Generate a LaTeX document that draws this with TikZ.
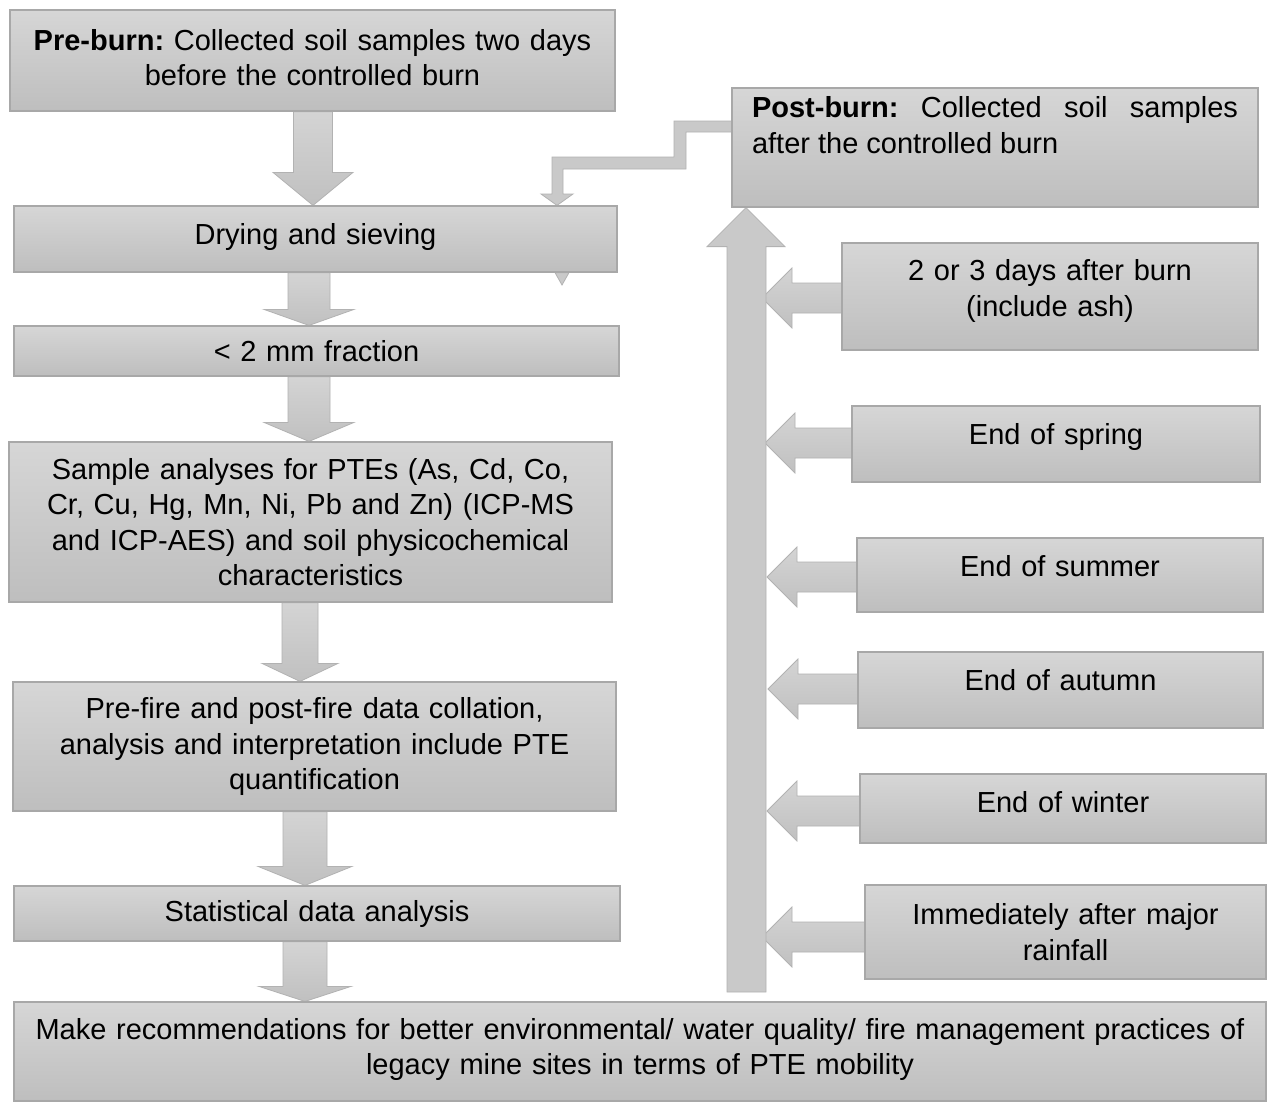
\documentclass[tikz,border=0pt]{standalone}
\usepackage{fontspec}
\setmainfont{Liberation Sans}
\usetikzlibrary{calc,backgrounds}
\setlength{\parindent}{0pt}
\frenchspacing

\definecolor{boxtop}{HTML}{D6D6D6}
\definecolor{boxbot}{HTML}{BEBEBE}
\definecolor{boxedge}{HTML}{A8A8A8}
\definecolor{arrtop}{HTML}{D4D4D4}
\definecolor{arrbot}{HTML}{C0C0C0}
\definecolor{arredge}{HTML}{B2B2B2}
\definecolor{arrflat}{HTML}{C9C9C9}

\tikzset{
  box/.style={draw=boxedge, line width=1.2pt, top color=boxtop, bottom color=boxbot,
    inner sep=0pt, font=\fontsize{29}{35.5}\selectfont, align=center, text=black},
  lift/.style={execute at end node={\par\vspace*{#1pt}}},
  blockarrow/.style={draw=arredge, line width=0.8pt, top color=arrtop, bottom color=arrbot},
  flatarrow/.style={draw=arredge, line width=0.8pt, fill=arrflat},
}

% downward block arrow: source, target, axis x, half stem, half head, head length
\newcommand\blkdown[6]{%
  \path[blockarrow]
    (#3-#4,0 |- #1.south) -- (#3+#4,0 |- #1.south)
    -- ($(#3+#4,0 |- #2.north)+(0,-#6)$) -- ($(#3+#5,0 |- #2.north)+(0,-#6)$)
    -- (#3,0 |- #2.north)
    -- ($(#3-#5,0 |- #2.north)+(0,-#6)$) -- ($(#3-#4,0 |- #2.north)+(0,-#6)$) -- cycle;}

% leftward block arrow: source, tip x, vertical offset
\newcommand\blkleft[3]{%
  \path[blockarrow]
    ($(#1.west)+(0,#3-15)$) -- ($(#2+30,0 |- #1.west)+(0,#3-15)$)
    -- ($(#2+30,0 |- #1.west)+(0,#3-30)$) -- ($(#2,0 |- #1.west)+(0,#3)$)
    -- ($(#2+30,0 |- #1.west)+(0,#3+30)$) -- ($(#2+30,0 |- #1.west)+(0,#3+15)$)
    -- ($(#1.west)+(0,#3+15)$) -- cycle;}

\begin{document}
\begin{tikzpicture}[x=1pt, y=-1pt]
\useasboundingbox (0,0) rectangle (1272,1103);

% ---- left column ----
\node[box, minimum width=605, minimum height=101, text width=585, lift=6] (pre) at (312.5,60.5)
  {\textbf{Pre-burn:} Collected soil samples two days\\ before the controlled burn};
\node[box, minimum width=603, minimum height=66, text width=583, lift=4] (dry) at (315.5,239)
  {Drying and sieving};
\node[box, minimum width=605, minimum height=50, text width=585] (frac) at (316.5,351)
  {< 2 mm fraction};
\node[box, minimum width=603, minimum height=160, text width=583] (sample) at (310.5,522)
  {Sample analyses for PTEs (As, Cd, Co,\\ Cr, Cu, Hg, Mn, Ni, Pb and Zn) (ICP-MS\\ and ICP-AES) and soil physicochemical\\ characteristics};
\node[box, minimum width=603, minimum height=129, text width=583] (collate) at (314.5,746.5)
  {Pre-fire and post-fire data collation,\\ analysis and interpretation include PTE\\ quantification};
\node[box, minimum width=606, minimum height=55, text width=586] (stat) at (317,913.5)
  {Statistical data analysis};
\node[box, minimum width=1252, minimum height=99, text width=1232, lift=4] (recommend) at (640,1051.5)
  {Make recommendations for better environmental/ water quality/ fire management practices of\\ legacy mine sites in terms of PTE mobility};

% ---- right column ----
\node[box, minimum width=526, minimum height=119, text width=486, align=justify, lift=45] (post) at (995,147.5)
  {\textbf{Post-burn:} Collected soil samples\linebreak after the controlled burn};
\node[box, minimum width=416, minimum height=107, text width=396, lift=11] (days) at (1050,296.5)
  {2 or 3 days after burn\\ (include ash)};
\node[box, minimum width=408, minimum height=76, text width=388, lift=14] (spring) at (1056,444)
  {End of spring};
\node[box, minimum width=406, minimum height=74, text width=386, lift=18] (summer) at (1060,575)
  {End of summer};
\node[box, minimum width=405, minimum height=76, text width=385, lift=20] (autumn) at (1060.5,690)
  {End of autumn};
\node[box, minimum width=406, minimum height=69, text width=386, lift=13] (winter) at (1063,808.5)
  {End of winter};
\node[box, minimum width=401, minimum height=94, text width=381] (rain) at (1065.5,932)
  {Immediately after major\\ rainfall};

\coordinate (spinefoot) at (746.5,992);

\begin{scope}[on background layer]
  \fill[white] (0,0) rectangle (1272,1103);

  % main sequence
  \blkdown{pre}{dry}{313}{19.5}{40}{33}
  \blkdown{dry}{frac}{309}{21}{45}{16}
  \blkdown{frac}{sample}{309}{21}{45}{19}
  \blkdown{sample}{collate}{300}{18}{38}{18}
  \blkdown{collate}{stat}{305}{22}{47}{19}
  \blkdown{stat}{recommend}{305}{22}{46}{15}

  % sampling times feeding the post-burn spine
  \blkleft{days}{762}{1.5}
  \blkleft{spring}{765}{-1}
  \blkleft{summer}{767}{2}
  \blkleft{autumn}{768}{-1}
  \blkleft{winter}{767}{2.5}
  \blkleft{rain}{762}{5}

  % spine up to the post-burn box
  \path[flatarrow]
    ($(spinefoot)+(-19.5,0)$) -- ($(spinefoot)+(19.5,0)$)
    -- ($(766,0 |- post.south)+(0,39)$) -- ($(785,0 |- post.south)+(0,39)$)
    -- (746,0 |- post.south)
    -- ($(707,0 |- post.south)+(0,39)$) -- ($(727,0 |- post.south)+(0,39)$) -- cycle;

  % elbow link from post-burn samples into drying
  \path[flatarrow]
    (post.west |- 0,121) -- (674,121) -- (674,157) -- (552,157) -- (552,194) -- (541,194)
    -- (557,0 |- dry.north) -- (573,194) -- (563,194) -- (563,169) -- (686,169) -- (686,132)
    -- (post.west |- 0,132) -- cycle;

  % small tip showing under the drying box
  \path[flatarrow] (555,0 |- dry.south) -- (569,0 |- dry.south) -- (562,285) -- cycle;
\end{scope}
\end{tikzpicture}
\end{document}
